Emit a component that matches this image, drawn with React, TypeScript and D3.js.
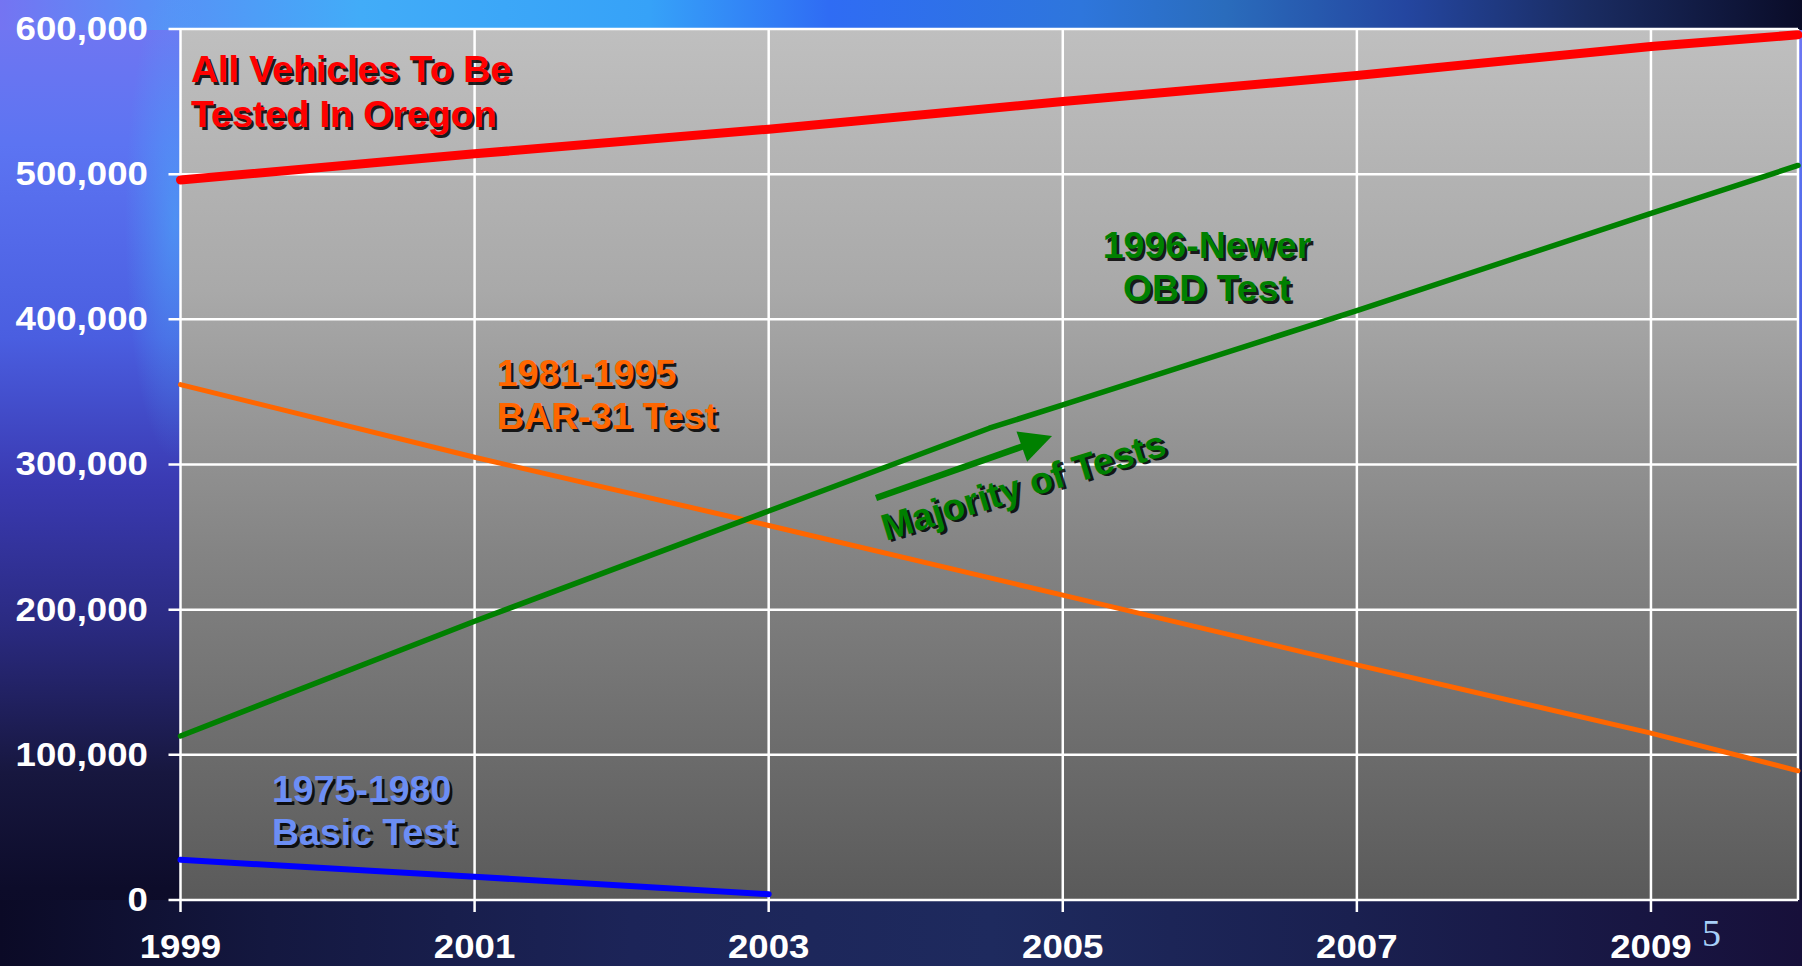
import React from "react";
import * as d3 from "d3";

// ---------- data ----------
const xTickYears = [1999, 2001, 2003, 2005, 2007, 2009];
const yTickValues = [0, 100000, 200000, 300000, 400000, 500000, 600000];

const allYears = [1999, 2001, 2003, 2005, 2007, 2009, 2010];
const allValues = [496000, 514000, 531000, 550000, 568000, 588000, 596000];

const obdYears = [1999, 2001, 2003, 2004.5, 2005, 2007, 2009, 2010];
const obdValues = [113000, 192000, 268000, 325000, 341000, 406000, 473000, 506000];

const barYears = [1999, 2001, 2003, 2005, 2007, 2009, 2010];
const barValues = [355000, 305000, 258000, 210000, 162000, 115000, 89000];

const basicYears = [1999, 2001, 2003];
const basicValues = [27700, 16000, 4000];

const W = 1802;
const H = 966;

type Pt = [number, number];
const zip = (xs: number[], ys: number[]): Pt[] => xs.map((v, i) => [v, ys[i]]);

function ShadowText(props: {
  x: number;
  y: number;
  fill: string;
  anchor?: string;
  size?: number;
  children: React.ReactNode;
}) {
  const { x, y, fill, anchor = "start", size = 37.5, children } = props;
  const common = {
    fontFamily: "'Liberation Sans', Arial, sans-serif",
    fontWeight: 700 as const,
    fontSize: size,
    textAnchor: anchor as any,
  };
  return (
    <g>
      <text x={x + 2.5} y={y + 2.5} fill="#000" opacity={0.85} {...common}>
        {children}
      </text>
      <text x={x} y={y} fill={fill} {...common}>
        {children}
      </text>
    </g>
  );
}

export default function App() {
  const x = d3.scaleLinear().domain([1999, 2010]).range([180.5, 1798]);
  const y = d3.scaleLinear().domain([0, 600000]).range([900, 29]);
  const line = d3
    .line<Pt>()
    .x((d) => x(d[0]))
    .y((d) => y(d[1]));

  const x0 = x(1999);
  const x1 = x(2010);
  const yTop = y(600000);
  const yBot = y(0);

  // arrow geometry
  const ax0 = 876, ay0 = 498, ax1 = 1052, ay1 = 436;
  const ang = Math.atan2(ay1 - ay0, ax1 - ax0);
  const headLen = 32, headHalf = 16;
  const bx = ax1 - headLen * Math.cos(ang);
  const by = ay1 - headLen * Math.sin(ang);
  const px = -Math.sin(ang), py = Math.cos(ang);
  const head = `${ax1},${ay1} ${bx + px * headHalf},${by + py * headHalf} ${bx - px * headHalf},${by - py * headHalf}`;

  const tickFont = {
    fontFamily: "'Liberation Sans', Arial, sans-serif",
    fontWeight: 700 as const,
    fontSize: 33,
    fill: "#fff",
  };

  return (
    <svg
      width={W}
      height={H}
      style={{ position: "fixed", left: 0, top: 0, display: "block" }}
    >
      <defs>
        <linearGradient id="leftCol" x1="0" y1="0" x2="0" y2="1">
          <stop offset="0" stopColor="#7476f2" />
          <stop offset="0.15" stopColor="#5c74f2" />
          <stop offset="0.35" stopColor="#4a5ee0" />
          <stop offset="0.5" stopColor="#3a3ab2" />
          <stop offset="0.65" stopColor="#2a2a80" />
          <stop offset="0.8" stopColor="#17173f" />
          <stop offset="0.92" stopColor="#0d0c2a" />
          <stop offset="1" stopColor="#0b0a26" />
        </linearGradient>
        <linearGradient id="topBand" x1="0" y1="0" x2="1" y2="0">
          <stop offset="0" stopColor="#7474f2" />
          <stop offset="0.08" stopColor="#5a8ef6" />
          <stop offset="0.2" stopColor="#42acf8" />
          <stop offset="0.36" stopColor="#36a2f8" />
          <stop offset="0.46" stopColor="#2f6cf4" />
          <stop offset="0.6" stopColor="#2e76dc" />
          <stop offset="0.68" stopColor="#2a6cbc" />
          <stop offset="0.78" stopColor="#2446a0" />
          <stop offset="0.88" stopColor="#1a2c62" />
          <stop offset="1" stopColor="#0a0c28" />
        </linearGradient>
        <linearGradient id="bottomBand" x1="0" y1="0" x2="1" y2="0">
          <stop offset="0" stopColor="#0b0a26" />
          <stop offset="0.15" stopColor="#141840" />
          <stop offset="0.35" stopColor="#1c2458" />
          <stop offset="0.55" stopColor="#1e2a5e" />
          <stop offset="0.75" stopColor="#1a2050" />
          <stop offset="1" stopColor="#17103a" />
        </linearGradient>
        <linearGradient id="plotBg" x1="0" y1="0" x2="0" y2="1">
          <stop offset="0" stopColor="#bfbfbf" />
          <stop offset="0.3" stopColor="#a9a9a9" />
          <stop offset="0.6" stopColor="#848484" />
          <stop offset="1" stopColor="#5a5a5a" />
        </linearGradient>
        <radialGradient id="glow" cx="0.5" cy="0.5" r="0.5">
          <stop offset="0" stopColor="#4aa8f8" stopOpacity="0.6" />
          <stop offset="1" stopColor="#4aa8f8" stopOpacity="0" />
        </radialGradient>
      </defs>

      {/* background */}
      <rect x={0} y={0} width={W} height={H} fill="url(#leftCol)" />
      <rect x={0} y={900} width={W} height={66} fill="url(#bottomBand)" />
      <rect x={0} y={0} width={W} height={30} fill="url(#topBand)" />
      <ellipse cx={175} cy={220} rx={50} ry={240} fill="url(#glow)" />

      {/* plot area */}
      <rect x={x0} y={yTop} width={x1 - x0} height={yBot - yTop} fill="url(#plotBg)" />

      {/* grid */}
      {yTickValues.map((v) => (
        <line key={"gy" + v} x1={x0 - 12} x2={x1} y1={y(v)} y2={y(v)} stroke="#fff" strokeWidth={2.5} />
      ))}
      {xTickYears.map((v) => (
        <line key={"gx" + v} x1={x(v)} x2={x(v)} y1={yTop} y2={yBot + 12} stroke="#fff" strokeWidth={2.5} />
      ))}
      <line x1={x1} x2={x1} y1={yTop} y2={yBot} stroke="#fff" strokeWidth={2.5} />

      {/* series */}
      <path d={line(zip(basicYears, basicValues)) || ""} fill="none" stroke="#0000ff" strokeWidth={6} strokeLinecap="round" />
      <path d={line(zip(barYears, barValues)) || ""} fill="none" stroke="#ff6600" strokeWidth={5} strokeLinecap="round" />
      <path d={line(zip(obdYears, obdValues)) || ""} fill="none" stroke="#008000" strokeWidth={5.5} strokeLinecap="round" strokeLinejoin="round" />
      <path d={line(zip(allYears, allValues)) || ""} fill="none" stroke="#ff0000" strokeWidth={9} strokeLinecap="round" strokeLinejoin="round" />

      {/* arrow */}
      <line x1={ax0} y1={ay0} x2={bx + 2 * Math.cos(ang)} y2={by + 2 * Math.sin(ang)} stroke="#008000" strokeWidth={6.5} />
      <polygon points={head} fill="#008000" />

      {/* axis labels */}
      {yTickValues.map((v) => (
        <text
          key={"ly" + v}
          x={148}
          y={y(v) + 11}
          textAnchor="end"
          transform={`translate(148,0) scale(1.11,1) translate(-148,0)`}
          {...tickFont}
        >
          {d3.format(",")(v)}
        </text>
      ))}
      {xTickYears.map((v) => (
        <text
          key={"lx" + v}
          x={x(v)}
          y={958}
          textAnchor="middle"
          transform={`translate(${x(v)},0) scale(1.11,1) translate(${-x(v)},0)`}
          {...tickFont}
        >
          {v}
        </text>
      ))}

      {/* series labels */}
      <ShadowText x={191} y={82} fill="#ff0000">All Vehicles To Be</ShadowText>
      <ShadowText x={191} y={127} fill="#ff0000">Tested In Oregon</ShadowText>

      <ShadowText x={1207} y={258} fill="#008000" anchor="middle">1996-Newer</ShadowText>
      <ShadowText x={1207} y={301} fill="#008000" anchor="middle">OBD Test</ShadowText>

      <ShadowText x={497} y={386} fill="#ff6600">1981-1995</ShadowText>
      <ShadowText x={497} y={429} fill="#ff6600">BAR-31 Test</ShadowText>

      <ShadowText x={272} y={802} fill="#6b8ef5">1975-1980</ShadowText>
      <ShadowText x={272} y={845} fill="#6b8ef5">Basic Test</ShadowText>

      <g transform="translate(886,541) rotate(-17)">
        <ShadowText x={0} y={0} fill="#008000">Majority of Tests</ShadowText>
      </g>

      {/* slide number */}
      <text
        x={1702}
        y={946}
        fill="#a8d0f8"
        fontFamily="'Liberation Serif', 'Times New Roman', serif"
        fontSize={38}
      >
        5
      </text>
    </svg>
  );
}
